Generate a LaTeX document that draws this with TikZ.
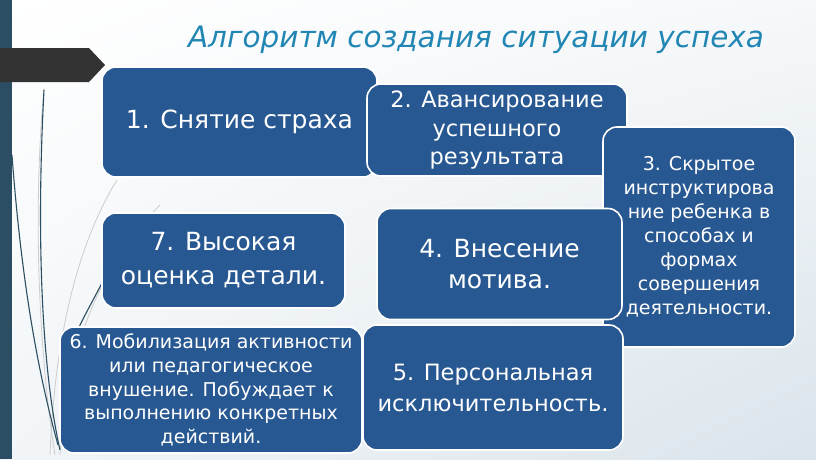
\documentclass[tikz,border=0pt]{standalone}
\usepackage{fontspec}
\setmainfont{DejaVu Sans}
\usetikzlibrary{shadings}
\definecolor{boxblue}{RGB}{40,88,146}
\definecolor{titleblue}{RGB}{33,134,180}
\definecolor{barteal}{RGB}{44,78,98}
\definecolor{bannergray}{RGB}{51,51,51}
\definecolor{bgblue}{RGB}{218,228,235}

\begin{document}
\begin{tikzpicture}[x=1pt,y=-1pt,
		algo box/.style={rectangle,rounded corners=14pt,draw=white,line width=1.6pt,
			fill=boxblue,text=white,align=center,inner sep=2pt},
		title text/.style={text=titleblue,font=\fontsize{29.5}{33}\selectfont\itshape},
		blade/.style={line width=1.1pt,draw=barteal},
		pale blade/.style={line width=0.8pt,draw=gray!40}]
		\useasboundingbox (0,0) rectangle (816,459);
		\shade[upper left=white,upper right=white!75!bgblue,lower left=white!65!bgblue,
			lower right=bgblue] (0,0) rectangle (816,459);
		\fill[barteal] (0,0) rectangle (12,459);
		\fill[bannergray] (0,48) -- (89,48) -- (105,65) -- (89,82) -- (0,82) -- cycle;
		
		% blades at the left
		\draw[pale blade] (44,88) .. controls (32,220) and (40,360) .. (55,455);
		\draw[pale blade] (117,180) .. controls (80,240) and (55,330) .. (50,455);
		\draw[pale blade] (160,205) .. controls (95,270) and (65,360) .. (60,455);
		\draw[blade] (12,155) .. controls (22,290) and (40,380) .. (58,445);
		\draw[blade] (44,90) .. controls (36,240) and (42,370) .. (60,450);
		\draw[blade] (102,283) .. controls (88,310) and (76,330) .. (70,350);
		
		\node[title text] (title) at (476,40) {Алгоритм создания ситуации успеха};
		
		\node[algo box,minimum width=275pt,minimum height=110pt,font=\fontsize{25}{30}\selectfont]
			(1) at (239.5,122) {1. Снятие страха};
		\node[algo box,minimum width=260pt,minimum height=92pt,font=\fontsize{22.5}{28.5}\selectfont]
			(2) at (497,130) {2. Авансирование\\успешного\\результата};
		\node[algo box,minimum width=192pt,minimum height=220pt,font=\fontsize{19}{24}\selectfont]
			(3) at (699,237) {3. Скрытое\\инструктирова\\ние ребенка в\\способах и\\формах\\совершения\\деятельности.};
		\node[algo box,minimum width=245pt,minimum height=111pt,font=\fontsize{25}{31}\selectfont]
			(4) at (499.5,264) {4. Внесение\\мотива.};
		\node[algo box,minimum width=260pt,minimum height=125pt,font=\fontsize{22.5}{31}\selectfont]
			(5) at (493,387.5) {5. Персональная\\исключительность.};
		\node[algo box,minimum width=302pt,minimum height=126pt,font=\fontsize{19}{23.7}\selectfont]
			(6) at (211,390) {6. Мобилизация активности\\или педагогическое\\внушение. Побуждает к\\выполнению конкретных\\действий.};
		\node[algo box,minimum width=243pt,minimum height=95pt,font=\fontsize{25}{34}\selectfont]
			(7) at (223.5,260.5) {7. Высокая\\оценка детали.};
\end{tikzpicture}
\end{document}
